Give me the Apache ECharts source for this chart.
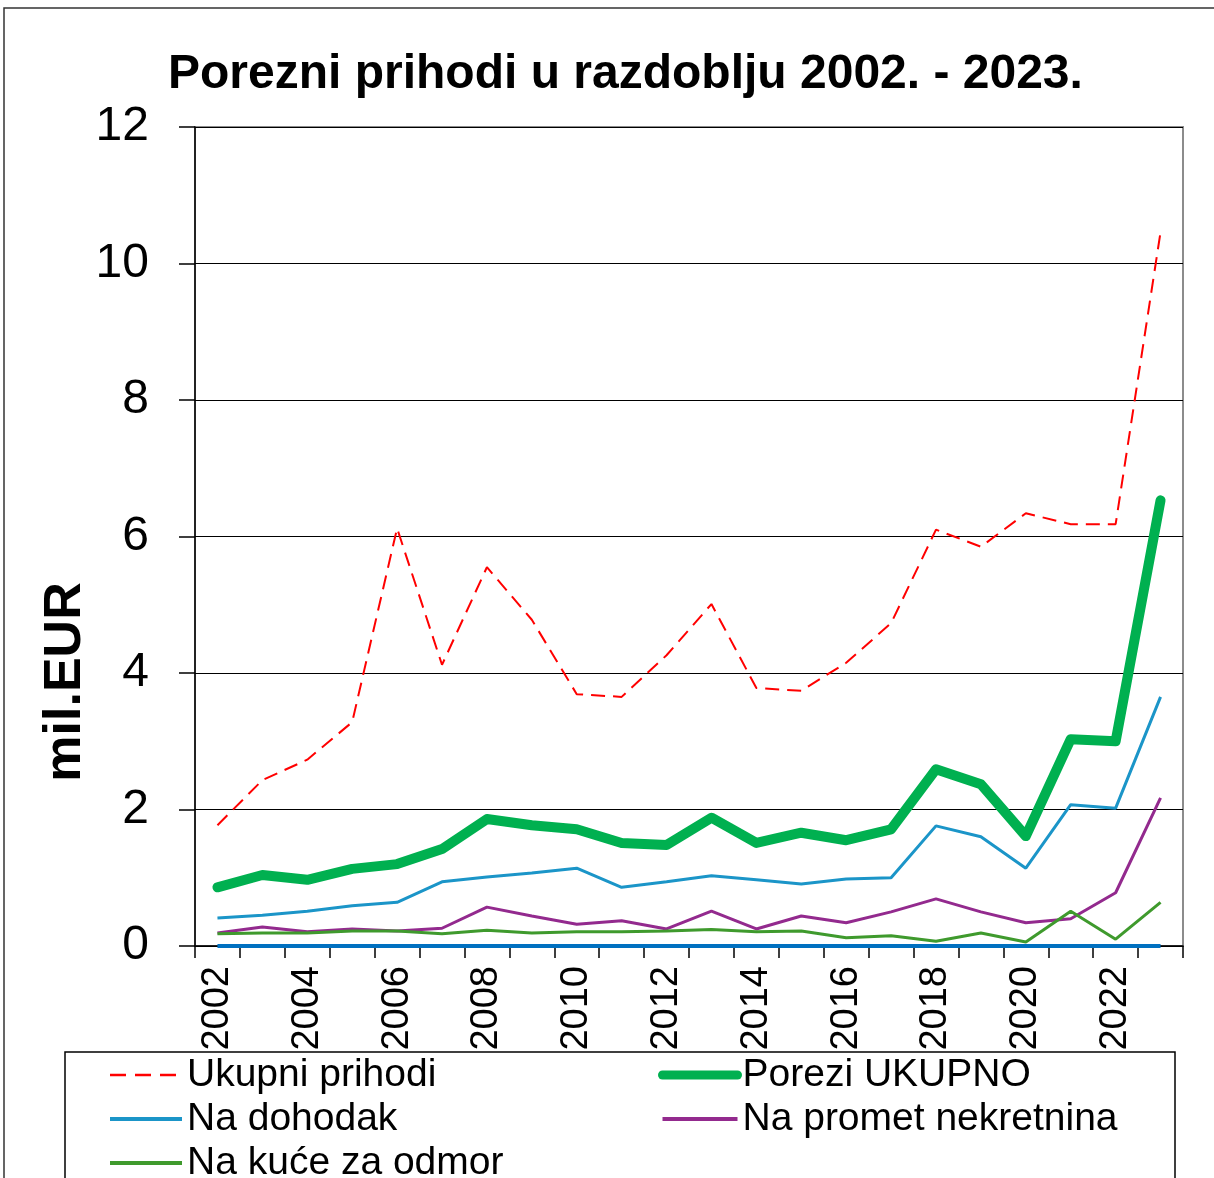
<!DOCTYPE html>
<html>
<head>
<meta charset="utf-8">
<script src="https://cdn.jsdelivr.net/npm/echarts@6/dist/echarts.min.js"></script>
<style>
  html, body { margin: 0; padding: 0; background: #fff; }
  #chart { width: 1214px; height: 1178px; }
</style>
</head>
<body>
<div id="chart"></div>
<script>
    var years = ['2002', '2003', '2004', '2005', '2006', '2007', '2008', '2009', '2010', '2011', '2012',
                 '2013', '2014', '2015', '2016', '2017', '2018', '2019', '2020', '2021', '2022', '2023'];

    // mil. EUR
    var ukupniPrihodi = [1.77, 2.43, 2.73, 3.28, 6.12, 4.12, 5.55, 4.78, 3.69, 3.65, 4.26,
                         5.01, 3.78, 3.74, 4.15, 4.73, 6.10, 5.85, 6.34, 6.18, 6.18, 10.46];
    var poreziUkupno = [0.86, 1.04, 0.97, 1.13, 1.20, 1.42, 1.86, 1.77, 1.71, 1.51, 1.48,
                        1.88, 1.51, 1.66, 1.55, 1.71, 2.59, 2.37, 1.61, 3.03, 3.00, 6.53];
    var naDohodak = [0.41, 0.45, 0.51, 0.59, 0.64, 0.94, 1.01, 1.07, 1.14, 0.86, 0.94,
                     1.03, 0.97, 0.91, 0.98, 1.00, 1.76, 1.60, 1.14, 2.07, 2.02, 3.65];
    var naPromet = [0.19, 0.28, 0.21, 0.25, 0.22, 0.26, 0.57, 0.44, 0.32, 0.37, 0.25,
                    0.51, 0.25, 0.44, 0.34, 0.50, 0.69, 0.50, 0.34, 0.40, 0.78, 2.17];
    var naKuce = [0.18, 0.19, 0.19, 0.22, 0.22, 0.18, 0.23, 0.19, 0.21, 0.21, 0.22,
                  0.24, 0.21, 0.22, 0.12, 0.15, 0.07, 0.19, 0.06, 0.51, 0.10, 0.64];
    var ostalo = [0, 0, 0, 0, 0, 0, 0, 0, 0, 0, 0,
                  0, 0, 0, 0, 0, 0, 0, 0, 0, 0, 0];

    var yTicks = { min: 0, max: 12, interval: 2 };
    var font = 'Liberation Sans, Arial, sans-serif';
    var legendText = { fontFamily: font, fontSize: 39, lineHeight: 44, color: '#000' };

    var chart = echarts.init(document.getElementById('chart'));
    chart.setOption({
        animation: false,
        textStyle: { fontFamily: font, color: '#000' },
        title: {
            text: 'Porezni prihodi u razdoblju 2002. - 2023.',
            left: 163,
            top: 46,
            textStyle: { fontFamily: font, fontSize: 48, fontWeight: 'bold', color: '#000' }
        },
        grid: {
            left: 195, right: 31, top: 127, bottom: 232,
            show: true, borderColor: '#8c8c8c', borderWidth: 2
        },
        legend: [
            {
                orient: 'vertical',
                left: 103, top: 1048, height: 200,
                itemWidth: 72, itemHeight: 14, itemGap: 0,
                itemStyle: { opacity: 0 },
                textStyle: legendText,
                data: [
                    { name: 'Ukupni prihodi', lineStyle: { width: 2.5, type: [16, 9] } },
                    { name: 'Na dohodak', lineStyle: { width: 4 } },
                    { name: 'Na kuće za odmor', lineStyle: { width: 4 } }
                ]
            },
            {
                orient: 'vertical',
                left: 653, top: 1048, height: 200,
                itemWidth: 75, itemHeight: 14, itemGap: 0,
                itemStyle: { opacity: 0 },
                textStyle: legendText,
                data: [
                    { name: 'Porezi UKUPNO', lineStyle: { width: 9, cap: 'round' } },
                    { name: 'Na promet nekretnina', lineStyle: { width: 4 } }
                ]
            }
        ],
        graphic: [
            {
                type: 'rect', silent: true,
                shape: { x: 4, y: 8, width: 1300, height: 1300 },
                style: { fill: 'none', stroke: '#333', lineWidth: 1.5 }
            },
            {
                type: 'rect', silent: true,
                shape: { x: 65, y: 1052, width: 1110, height: 200 },
                style: { fill: 'none', stroke: '#000', lineWidth: 1.5 }
            },
            {
                type: 'text', silent: true,
                x: 66, y: 682, rotation: Math.PI / 2,
                style: {
                    text: 'mil.EUR', fontFamily: font, fontSize: 52, fontWeight: 'bold',
                    fill: '#000', align: 'center', verticalAlign: 'middle'
                }
            }
        ],
        xAxis: {
            type: 'category',
            data: years,
            boundaryGap: true,
            axisLine: { onZero: false, lineStyle: { color: '#000', width: 1.5 } },
            axisTick: { show: true, length: 12, interval: 0, lineStyle: { color: '#000', width: 1.5 } },
            axisLabel: { rotate: 90, interval: 1, margin: 20, fontSize: 38, fontFamily: font, color: '#000' },
            splitLine: { show: false }
        },
        yAxis: {
            type: 'value',
            min: yTicks.min, max: yTicks.max, interval: yTicks.interval,
            axisLine: { show: true, lineStyle: { color: '#000', width: 1.5 } },
            axisTick: { show: true, length: 16, lineStyle: { color: '#000', width: 1.5 } },
            axisLabel: { fontSize: 48, fontFamily: font, color: '#000', margin: 46 },
            splitLine: { show: true, lineStyle: { color: '#000', width: 1 } }
        },
        series: [
            {
                name: 'Ostalo', type: 'line', data: ostalo, symbol: 'none',
                lineStyle: { color: '#0070c0', width: 4 }, itemStyle: { color: '#0070c0' }
            },
            {
                name: 'Ukupni prihodi', type: 'line', data: ukupniPrihodi, symbol: 'none',
                lineStyle: { color: '#ff0000', width: 2, type: [14, 8] }, itemStyle: { color: '#ff0000' }
            },
            {
                name: 'Na dohodak', type: 'line', data: naDohodak, symbol: 'none',
                lineStyle: { color: '#1b95c8', width: 3 }, itemStyle: { color: '#1b95c8' }
            },
            {
                name: 'Na promet nekretnina', type: 'line', data: naPromet, symbol: 'none',
                lineStyle: { color: '#932a8e', width: 3 }, itemStyle: { color: '#932a8e' }
            },
            {
                name: 'Na kuće za odmor', type: 'line', data: naKuce, symbol: 'none',
                lineStyle: { color: '#3f9a2d', width: 3 }, itemStyle: { color: '#3f9a2d' }
            },
            {
                name: 'Porezi UKUPNO', type: 'line', data: poreziUkupno, symbol: 'none',
                lineStyle: { color: '#00b050', width: 10, cap: 'round', join: 'round' },
                itemStyle: { color: '#00b050' }
            }
        ]
    });
</script>
</body>
</html>
